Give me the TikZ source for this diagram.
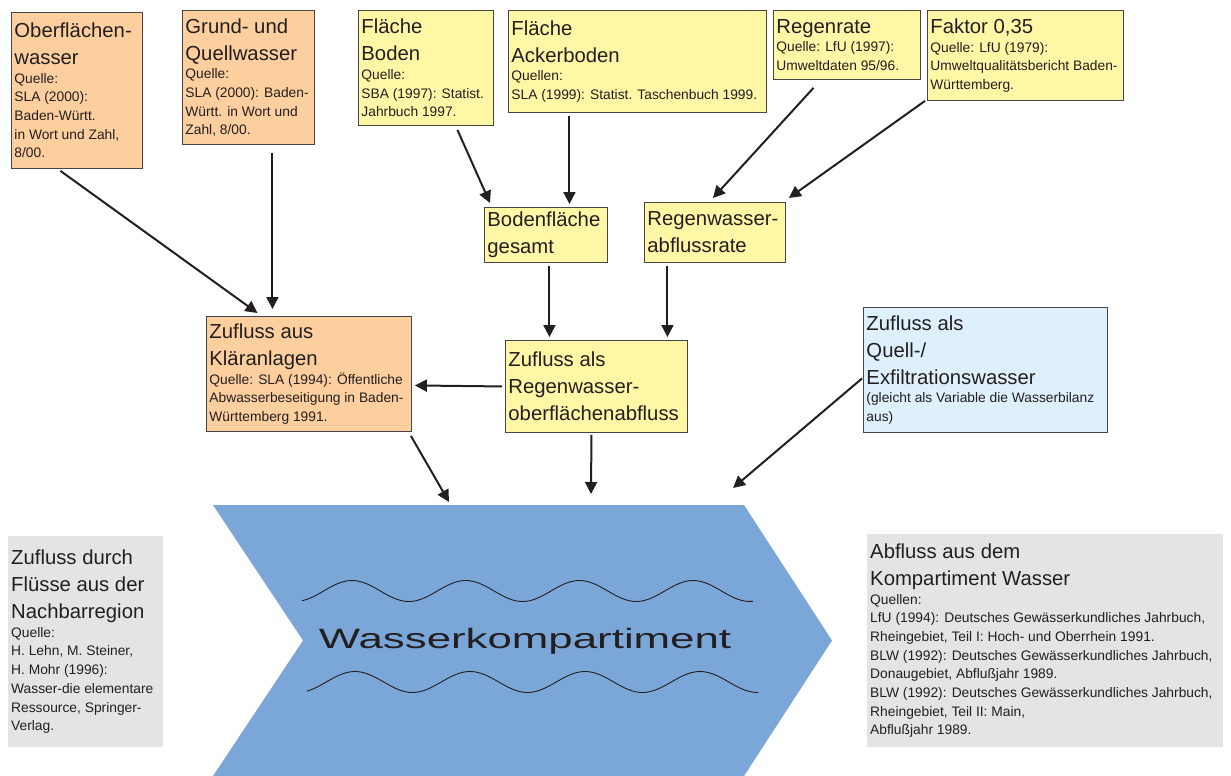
\documentclass[tikz,border=0pt]{standalone}
\usepackage{fontspec}
\setmainfont{Liberation Sans}
\usepackage{graphicx}
\usetikzlibrary{arrows.meta}
\definecolor{boxorange}{RGB}{253,207,158}
\definecolor{boxyellow}{RGB}{255,246,166}
\definecolor{boxblue}{RGB}{222,240,251}
\definecolor{boxgray}{RGB}{227,228,230}
\definecolor{chevblue}{RGB}{123,167,216}
\definecolor{boxline}{RGB}{70,70,70}
\definecolor{inkdark}{RGB}{35,31,32}
\newcommand{\boxtitle}{\fontsize{20.3}{27}\selectfont}
\newcommand{\boxsrc}{\fontsize{13.8}{18.7}\selectfont}
\tikzset{
    mybox/.style = {rectangle, anchor=north west, align=flush left, inner xsep=3pt, inner ysep=3pt, text=inkdark, font=\boxtitle},
    myboxo/.style = {mybox, draw=boxline, line width=0.9pt, fill=boxorange},
    myboxy/.style = {mybox, draw=boxline, line width=0.9pt, fill=boxyellow},
    myboxb/.style = {mybox, draw=boxline, line width=0.9pt, fill=boxblue},
    myboxg/.style = {mybox, fill=boxgray},
    edgen/.style = {-{Triangle[length=12pt,width=12pt]}, line width=2pt, inkdark},
    wave/.style = {line width=0.9pt, inkdark, smooth}
}
\begin{document}
\begin{tikzpicture}[x=1pt,y=-1pt]
\useasboundingbox (0,0) rectangle (1231,776);
% compartment arrow
\fill[chevblue] (213,505) -- (744,505) -- (832,640.5) -- (744,776) -- (213,776) -- (303,640.5) -- cycle;
\draw[wave] plot[domain=302:753,samples=90] (\x,{591-10.5*cos(3.1662*(\x-352))});
\draw[wave] plot[domain=307:758,samples=90] (\x,{682-10.5*cos(3.1304*(\x-355))});
\node[text=inkdark, font=\fontsize{28}{32}\selectfont, anchor=base] at (525,648) (wk) {\scalebox{1.565}[1]{Wasserkompartiment}};
\coordinate (in1) at (449,502);
\coordinate (in2) at (591,494);
\coordinate (in3) at (733,488);
% data sources
\node[myboxo, text width=125pt, minimum width=131pt, minimum height=156pt] at ( 11, 12) (ow) {Oberflächen-\\wasser\par\boxsrc Quelle:\\SLA (2000):\\Baden-Württ.\\in Wort und Zahl,\\8/00.\par};
\node[myboxo, text width=126pt, minimum width=132pt, minimum height=134pt] at (182, 10) (gqw) {Grund- und\\Quellwasser\par\boxsrc Quelle:\\SLA (2000): Baden-\\Württ. in Wort und\\Zahl, 8/00.\par};
\node[myboxy, text width=129pt, minimum width=135pt, minimum height=115pt] at (358, 10) (fb) {Fläche\\Boden\par\boxsrc Quelle:\\SBA (1997): Statist.\\Jahrbuch 1997.\par};
\node[myboxy, text width=252pt, minimum width=258pt, minimum height=102pt] at (508, 10) (fa) {Fläche\\Ackerboden\par\boxsrc Quellen:\\SLA (1999): Statist. Taschenbuch 1999.\par};
\node[myboxy, text width=141pt, minimum width=147pt, minimum height=69pt] at (773, 10) (rr) {Regenrate\par\boxsrc Quelle: LfU (1997):\\Umweltdaten 95/96.\par};
\node[myboxy, text width=190pt, minimum width=196pt, minimum height=90pt] at (927, 10) (fk) {Faktor 0,35\par\boxsrc Quelle: LfU (1979):\\Umweltqualitätsbericht Baden-\\Württemberg.\par};
% intermediate values
\node[myboxy, text width=117pt, minimum width=123pt, minimum height=55pt] at (484,207) (bg) {Bodenfläche\\gesamt};
\node[myboxy, text width=135pt, minimum width=141pt, minimum height=60pt] at (644,202) (ra) {Regenwasser-\\abflussrate};
\node[myboxo, text width=199pt, minimum width=205pt, minimum height=115pt] at (206,316) (ka) {Zufluss aus\\Kläranlagen\par\boxsrc Quelle: SLA (1994): Öffentliche\\Abwasserbeseitigung in Baden-\\Württemberg 1991.\par};
\node[myboxy, text width=176pt, minimum width=182pt, minimum height=92pt] at (505,340) (ro) {Zufluss als\\Regenwasser-\\oberflächenabfluss};
\node[myboxb, text width=238pt, minimum width=244pt, minimum height=125pt] at (863,307) (qe) {Zufluss als\\Quell-/\\Exfiltrationswasser\par\boxsrc (gleicht als Variable die Wasserbilanz\\aus)\par};
% in- and outflow
\node[myboxg, text width=149pt, minimum width=155pt, minimum height=211pt] at (  8,536) (nb) {Zufluss durch\\Flüsse aus der\\Nachbarregion\par\boxsrc Quelle:\\H. Lehn, M. Steiner,\\H. Mohr (1996):\\Wasser-die elementare\\Ressource, Springer-\\Verlag.\par};
\node[myboxg, text width=350pt, minimum width=356pt, minimum height=213pt] at (867,534) (ab) {Abfluss aus dem\\Kompartiment Wasser\par\boxsrc Quellen:\\LfU (1994): Deutsches Gewässerkundliches Jahrbuch,\\Rheingebiet, Teil I: Hoch- und Oberrhein 1991.\\BLW (1992): Deutsches Gewässerkundliches Jahrbuch,\\Donaugebiet, Abflußjahr 1989.\\BLW (1992): Deutsches Gewässerkundliches Jahrbuch,\\Rheingebiet, Teil II: Main,\\Abflußjahr 1989.\par};
% flows
\draw[edgen] ([xshift=-16.5pt,yshift=-2pt]ow.south) -- ([xshift=-51.5pt,yshift=3pt]ka.north);
\draw[edgen] ([xshift=24pt,yshift=-8pt]gqw.south) -- ([xshift=-36.5pt,yshift=7pt]ka.north);
\draw[edgen] ([xshift=31.5pt,yshift=-4pt]fb.south) -- ([xshift=6pt,yshift=4pt]bg.north west);
\draw[edgen] ([xshift=-68pt,yshift=-3pt]fa.south) -- ([xshift=23.5pt,yshift=3pt]bg.north);
\draw[edgen] ([xshift=-33.5pt,yshift=-8pt]rr.south) -- ([xshift=69pt,yshift=4pt]ra.north west);
\draw[edgen] ([xshift=-2pt]fk.south west) -- ([xshift=3pt,yshift=4pt]ra.north east);
\draw[edgen] ([xshift=3.5pt,yshift=-3pt]bg.south) -- ([xshift=-47pt,yshift=3pt]ro.north);
\draw[edgen] ([xshift=-47.5pt,yshift=-3pt]ra.south) -- ([xshift=71pt,yshift=3pt]ro.north);
\draw[edgen] ([xshift=-3pt]ro.west) -- ([xshift=3pt,yshift=-11.5pt]ka.east);
\draw[edgen] ([xshift=-1pt,yshift=-4pt]ka.south east) -- (in1);
\draw[edgen] ([xshift=-5pt,yshift=-2pt]ro.south) -- (in2);
\draw[edgen] ([xshift=-1pt,yshift=-8.5pt]qe.west) -- (in3);
\end{tikzpicture}
\end{document}
